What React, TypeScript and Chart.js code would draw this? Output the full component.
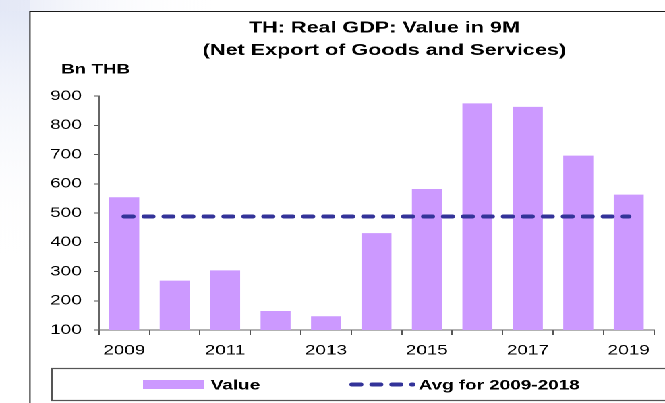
import React, { useEffect, useRef } from 'react';
import { Chart, registerables } from 'chart.js';

Chart.register(...registerables);

// ---- data ----
const years = ['2009', '2010', '2011', '2012', '2013', '2014', '2015', '2016', '2017', '2018', '2019'];
const values = [554, 269, 304, 165, 147, 431, 582, 875, 863, 696, 563];
const avgValue = 488;
const avgSeries = years.map(() => avgValue);
const titleLines = ['TH: Real GDP: Value in 9M', '(Net Export of Goods and Services)'];
const yUnit = 'Bn THB';
const legendLabels = ['Value', 'Avg for 2009-2018'];
const yMin = 100;
const yMax = 900;
const yStep = 100;

// ---- layout (drawn at W wide, then stretched horizontally to 665) ----
const W = 493;
const H = 403;
const SX = 665 / W;
const FONT = '"Liberation Sans", Arial, Helvetica, sans-serif';
const BAR_COLOR = '#CC99FF';
const LINE_COLOR = '#333399';
const DASH = [6.4, 8.4];

const decor = {
  id: 'decor',
  beforeDraw(chart: any) {
    const ctx = chart.ctx;
    ctx.save();
    ctx.fillStyle = '#ffffff';
    ctx.fillRect(0, 0, W, H);
    // faint watermark wash at the top-left
    const g = ctx.createLinearGradient(0, 0, 0, 260);
    g.addColorStop(0, 'rgba(222,228,245,0.9)');
    g.addColorStop(1, 'rgba(255,255,255,0)');
    ctx.fillStyle = g;
    ctx.fillRect(0, 0, 22, 260);
    const g2 = ctx.createLinearGradient(0, 0, 160, 0);
    g2.addColorStop(0, 'rgba(228,232,246,0.9)');
    g2.addColorStop(1, 'rgba(255,255,255,0)');
    ctx.fillStyle = g2;
    ctx.fillRect(0, 0, 160, 11);
    ctx.strokeStyle = '#1a1a1a';
    ctx.lineWidth = 1;
    ctx.beginPath();
    ctx.moveTo(22.2, H);
    ctx.lineTo(22.2, 11.5);
    ctx.lineTo(W, 11.5);
    ctx.stroke();
    ctx.restore();
  },
  afterDraw(chart: any) {
    const ctx = chart.ctx;
    ctx.save();
    // title
    ctx.fillStyle = '#000';
    ctx.font = `bold 16px ${FONT}`;
    ctx.textAlign = 'center';
    ctx.textBaseline = 'alphabetic';
    ctx.fillText(titleLines[0], 285, 32.7);
    ctx.fillText(titleLines[1], 285, 55);
    // unit
    ctx.font = `bold 14px ${FONT}`;
    ctx.textAlign = 'left';
    ctx.fillText(yUnit, 45.2, 73.3);
    // legend box
    ctx.strokeStyle = '#555';
    ctx.lineWidth = 1.2;
    ctx.strokeRect(38.5, 368.5, W, 32);
    // swatch
    ctx.fillStyle = BAR_COLOR;
    ctx.fillRect(106, 380, 45, 9);
    ctx.fillStyle = '#000';
    ctx.font = `bold 14px ${FONT}`;
    ctx.fillText(legendLabels[0], 156.3, 389.5);
    // dashed line sample
    ctx.strokeStyle = LINE_COLOR;
    ctx.lineWidth = 4;
    ctx.lineCap = 'round';
    ctx.setLineDash(DASH);
    ctx.beginPath();
    ctx.moveTo(261, 384.5);
    ctx.lineTo(306, 384.5);
    ctx.stroke();
    ctx.setLineDash([]);
    ctx.fillText(legendLabels[1], 310.4, 389.5);
    ctx.restore();
  },
};

export default function App() {
  const ref = useRef<HTMLCanvasElement | null>(null);

  useEffect(() => {
    if (!ref.current) return;
    const chart = new Chart(ref.current, {
      type: 'bar',
      data: {
        labels: years,
        datasets: [
          {
            type: 'line',
            label: legendLabels[1],
            data: avgSeries,
            borderColor: LINE_COLOR,
            borderWidth: 4,
            borderDash: DASH,
            borderCapStyle: 'round',
            pointRadius: 0,
            fill: false,
            order: 0,
          } as any,
          {
            type: 'bar',
            label: legendLabels[0],
            data: values,
            backgroundColor: BAR_COLOR,
            borderWidth: 0,
            barPercentage: 0.595,
            categoryPercentage: 1.0,
            order: 1,
          },
        ],
      },
      options: {
        animation: false,
        responsive: false,
        devicePixelRatio: 2,
        layout: { padding: { left: 0, top: 96, right: 8.2, bottom: 0 } },
        plugins: {
          legend: { display: false },
          title: { display: false },
          tooltip: { enabled: false },
        },
        scales: {
          x: {
            type: 'category',
            offset: true,
            grid: {
              offset: true,
              drawOnChartArea: false,
              drawTicks: true,
              tickLength: 5,
              color: '#555',
              lineWidth: 1,
            },
            border: { display: true, color: '#666', width: 1 },
            ticks: {
              autoSkip: false,
              maxRotation: 0,
              minRotation: 0,
              padding: 7,
              color: '#000',
              font: { family: FONT, size: 14 },
              callback: (_v: any, i: number) => (i % 2 === 0 ? years[i] : ''),
            },
            afterFit: (s: any) => {
              s.height = 73;
              s.paddingLeft = 0;
              s.paddingRight = 0;
              s.paddingTop = 0;
              s.paddingBottom = 0;
            },
          },
          y: {
            min: yMin,
            max: yMax,
            grid: {
              drawOnChartArea: false,
              drawTicks: true,
              tickLength: 3.5,
              color: '#555',
              lineWidth: 1,
            },
            border: { display: true, color: '#666', width: 1 },
            ticks: {
              stepSize: yStep,
              padding: 9.3,
              color: '#000',
              font: { family: FONT, size: 14 },
            },
            afterFit: (s: any) => {
              s.width = 73.4;
              s.paddingLeft = 0;
              s.paddingRight = 0;
              s.paddingTop = 0;
              s.paddingBottom = 0;
            },
          },
        },
      } as any,
      plugins: [decor],
    });
    return () => chart.destroy();
  }, []);

  return (
    <div
      style={{
        position: 'absolute',
        left: 0,
        top: 0,
        width: W,
        height: H,
        transform: `scaleX(${SX})`,
        transformOrigin: '0 0',
        background: '#fff',
      }}
    >
      <canvas ref={ref} width={W} height={H} style={{ width: W, height: H, display: 'block' }} />
    </div>
  );
}
